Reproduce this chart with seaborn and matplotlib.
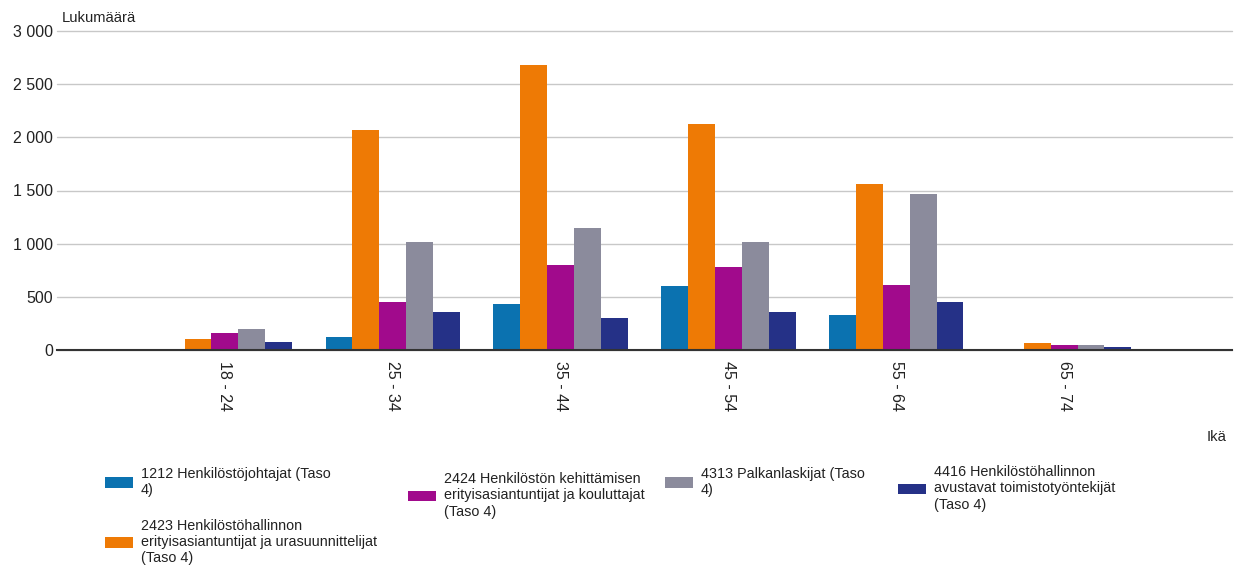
import matplotlib
matplotlib.use("Agg")
import matplotlib.pyplot as plt
from matplotlib.patches import Patch
import seaborn as sns
import pandas as pd

# Age groups (x axis)
ages = ["18 - 24", "25 - 34", "35 - 44", "45 - 54", "55 - 64", "65 - 74"]

# Occupation series
occupations = [
    "1212 Henkilöstöjohtajat (Taso\n4)",
    "2423 Henkilöstöhallinnon\nerityisasiantuntijat ja urasuunnittelijat\n(Taso 4)",
    "2424 Henkilöstön kehittämisen\nerityisasiantuntijat ja kouluttajat\n(Taso 4)",
    "4313 Palkanlaskijat (Taso\n4)",
    "4416 Henkilöstöhallinnon\navustavat toimistotyöntekijät\n(Taso 4)",
]

# Head counts per age group
henkilostojohtajat = [10, 120, 430, 600, 325, 10]
hr_asiantuntijat = [100, 2070, 2680, 2130, 1565, 63]
kehittaminen = [157, 455, 795, 785, 612, 50]
palkanlaskijat = [195, 1018, 1150, 1018, 1468, 50]
avustavat = [78, 360, 298, 360, 455, 25]

colors = ["#0b72b0", "#ee7a05", "#a10a8c", "#8b8b9c", "#253187"]

y_ticks = [0, 500, 1000, 1500, 2000, 2500, 3000]
y_labels = ["0", "500", "1 000", "1 500", "2 000", "2 500", "3 000"]

series = [henkilostojohtajat, hr_asiantuntijat, kehittaminen, palkanlaskijat, avustavat]
df = pd.DataFrame(
    [(age, occ, vals[i]) for occ, vals in zip(occupations, series) for i, age in enumerate(ages)],
    columns=["Ikä", "Ammatti", "Lukumäärä"],
)

sns.set_theme(style="white")
plt.rcParams["font.family"] = ["Liberation Sans", "DejaVu Sans"]

W, H = 1241, 568
fig = plt.figure(figsize=(W / 100, H / 100), dpi=100)
ax = fig.add_axes([57 / W, 1 - 350 / H, 1175 / W, 319 / H])

sns.barplot(
    data=df, x="Ikä", y="Lukumäärä", hue="Ammatti",
    order=ages, hue_order=occupations, palette=colors,
    width=0.8, saturation=1, legend=False, ax=ax, linewidth=0,
)

ax.set_xlim(-1, len(ages))
ax.set_ylim(0, 3000)
ax.set_yticks(y_ticks)
ax.set_yticklabels(y_labels)
ax.set_xlabel("")
ax.set_ylabel("")
ax.tick_params(axis="both", length=0, labelsize=11.5, colors="#222222")
ax.tick_params(axis="y", pad=3)
ax.tick_params(axis="x", pad=8)
for lab in ax.get_xticklabels():
    lab.set_rotation(270)
    lab.set_va("top")
    lab.set_ha("center")

ax.yaxis.grid(True, color="#c8c8c8", linewidth=1)
ax.set_axisbelow(True)
for gl in ax.get_ygridlines():
    gl.set_clip_on(False)
for side in ["top", "left", "right"]:
    ax.spines[side].set_visible(False)
ax.spines["bottom"].set_color("#333333")
ax.spines["bottom"].set_linewidth(1.5)

# Axis titles
fig.text(62 / W, 1 - 18 / H, "Lukumäärä", fontsize=10.6, color="#222222", ha="left", va="center")
fig.text(1226 / W, 1 - 437 / H, "Ikä", fontsize=10.6, color="#222222", ha="right", va="center")

# Legend laid out in four columns
handles = [Patch(facecolor=c, edgecolor="none") for c in colors]
columns = [
    ([0, 1], 98, 460),
    ([2], 401, 465),
    ([3], 658, 460),
    ([4], 891, 458),
]
for idx, x0, y0 in columns:
    leg = fig.legend(
        [handles[i] for i in idx], [occupations[i] for i in idx],
        loc="upper left", bbox_to_anchor=(x0 / W, 1 - y0 / H),
        frameon=False, borderpad=0, fontsize=10.4,
        handlelength=1.95, handleheight=0.75, handletextpad=0.5,
        labelspacing=1.5, labelcolor="#222222",
    )
    for t in leg.get_texts():
        t.set_linespacing(1.2)

fig.savefig("out.png", dpi=100)
